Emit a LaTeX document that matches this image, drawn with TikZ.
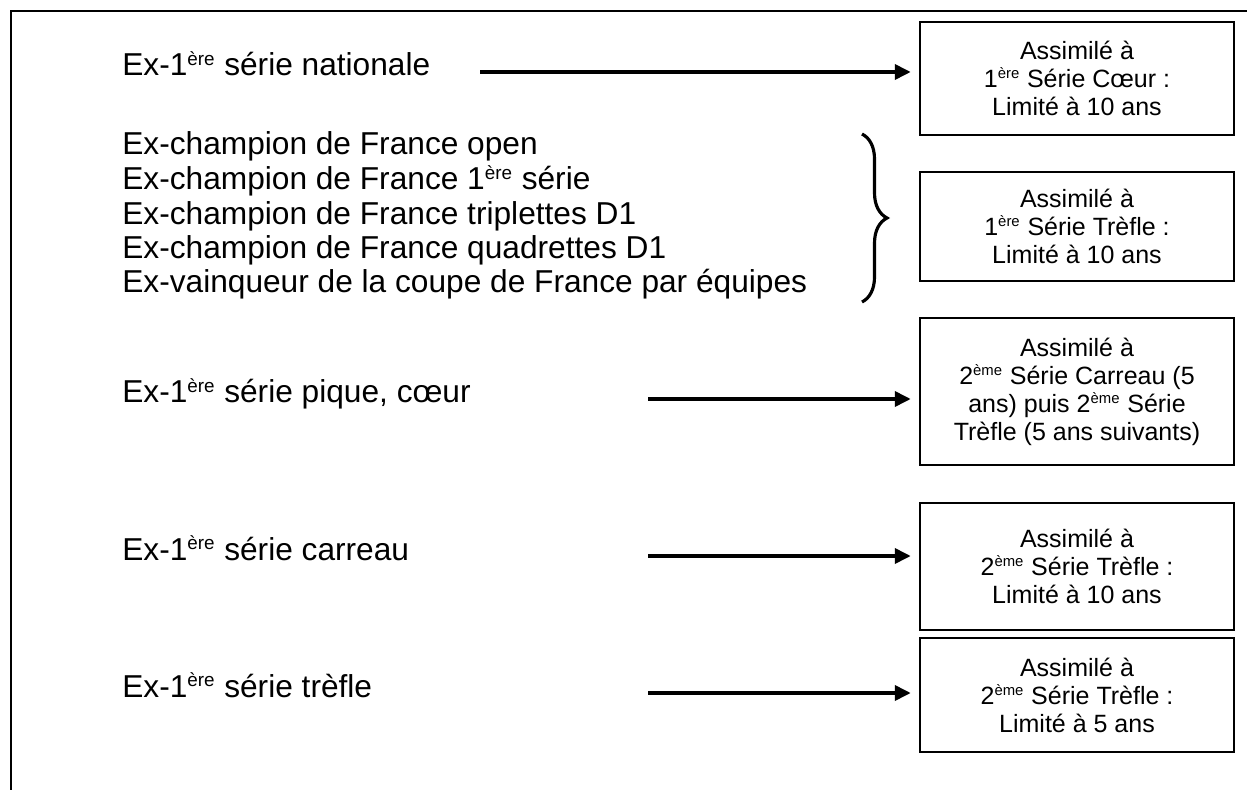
\documentclass[tikz,border=0pt]{standalone}
\usepackage{fontspec}
\setmainfont{Liberation Sans}
\usetikzlibrary{arrows.meta,decorations.pathreplacing}

\newcommand{\expo}[1]{\textsuperscript{\scalebox{0.85}{#1}}}

\tikzset{
  lefttext/.style={anchor=base west,inner sep=0pt,font=\fontsize{19}{20.7}\selectfont},
  infobox/.style={draw,line width=1.1pt,minimum width=188.4pt,align=center,inner sep=0pt,font=\fontsize{15}{16.8}\selectfont},
  linkarrow/.style={line width=2.2pt,-{Triangle[length=9.6pt,width=9pt]},shorten >=5pt}
}

\begin{document}
\begin{tikzpicture}[x=0.6pt,y=-0.6pt]
\useasboundingbox (0,0) rectangle (1247,790);
\draw[line width=1.5pt] (1247,11) -- (11,11) -- (11,790);

\node[lefttext] (nat) at (122,76) {Ex-1\expo{ère} série nationale};
\node[lefttext] (open) at (122,155) {Ex-champion de France open};
\node[lefttext] (prem) at (122,190) {Ex-champion de France 1\expo{ère} série};
\node[lefttext] (trip) at (122,225) {Ex-champion de France triplettes D1};
\node[lefttext] (quad) at (122,259) {Ex-champion de France quadrettes D1};
\node[lefttext] (coupe) at (122,293) {Ex-vainqueur de la coupe de France par équipes};
\node[lefttext] (pique) at (122,403) {Ex-1\expo{ère} série pique, cœur};
\node[lefttext] (carreau) at (122,560) {Ex-1\expo{ère} série carreau};
\node[lefttext] (trefle) at (122,697) {Ex-1\expo{ère} série trèfle};

\node[infobox,minimum height=67.8pt] (coeurbox) at (1077,78.5) {Assimilé à\\1\expo{ère} Série Cœur :\\Limité à 10 ans};
\node[infobox,minimum height=65.4pt] (treflebox) at (1077,226.5) {Assimilé à\\1\expo{ère} Série Trèfle :\\Limité à 10 ans};
\node[infobox,minimum height=88.2pt] (carreaubox) at (1077,391.5) {Assimilé à\\2\expo{ème} Série Carreau (5\\ans) puis 2\expo{ème} Série\\Trèfle (5 ans suivants)};
\node[infobox,minimum height=76.2pt] (deuxbox) at (1077,566.5) {Assimilé à\\2\expo{ème} Série Trèfle :\\Limité à 10 ans};
\node[infobox,minimum height=68.4pt] (cinqbox) at (1077,695) {Assimilé à\\2\expo{ème} Série Trèfle :\\Limité à 5 ans};

\coordinate (s1) at (480,72);
\coordinate (s3) at (648,399);
\coordinate (s4) at (648,556);
\coordinate (s5) at (648,693);
\coordinate (bracetop) at (862,134);
\coordinate (bracebot) at (862,302);

\draw[linkarrow] (s1) -- (s1 -| coeurbox.west);
\draw[linkarrow] (s3) -- (s3 -| carreaubox.west);
\draw[linkarrow] (s4) -- (s4 -| deuxbox.west);
\draw[linkarrow] (s5) -- (s5 -| cinqbox.west);
\draw[line width=1.9pt,decorate,decoration={brace,amplitude=15pt}] (bracetop) -- (bracebot);
\end{tikzpicture}
\end{document}
